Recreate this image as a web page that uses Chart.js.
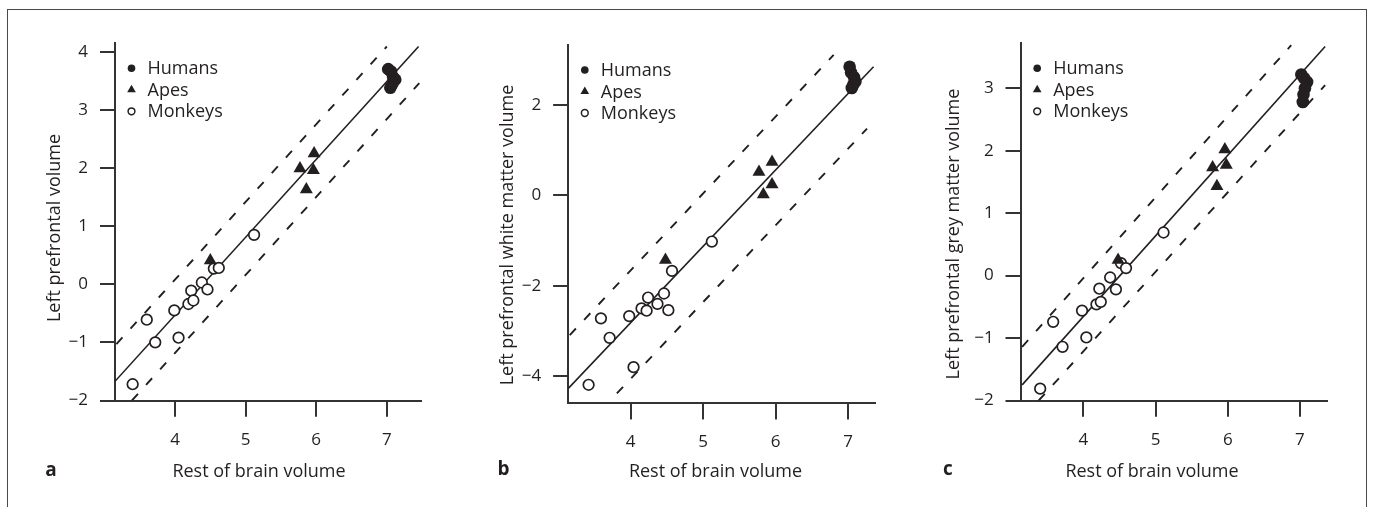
<!DOCTYPE html>
<html>
<head>
<meta charset="utf-8">
<script src="https://cdn.jsdelivr.net/npm/chart.js@4/dist/chart.umd.min.js"></script>
<style>
html,body{margin:0;padding:0;background:#fff;width:1373px;height:507px;overflow:hidden;}
canvas{position:absolute;left:0;top:0;}
#frame{position:absolute;left:7px;top:9px;width:1360px;height:530px;border:1px solid #4a4a4a;box-sizing:border-box;}
</style>
</head>
<body>
<div id="frame"></div>
<canvas id="ca" width="1373" height="507"></canvas>
<canvas id="cb" width="1373" height="507"></canvas>
<canvas id="cc" width="1373" height="507"></canvas>
<script>
// ---------- tick labels ----------
const xTicks = [4, 5, 6, 7];
const yTicksA = [-2, -1, 0, 1, 2, 3, 4];
const yTicksB = [-4, -2, 0, 2];
const yTicksC = [-2, -1, 0, 1, 2, 3];

// ---------- texts ----------
const xTitle = 'Rest of brain volume';
const yTitleA = 'Left prefrontal volume';
const yTitleB = 'Left prefrontal white matter volume';
const yTitleC = 'Left prefrontal grey matter volume';
const seriesNames = ['Humans', 'Apes', 'Monkeys'];

// ---------- panel a : data ----------
const humansAx = [7.02, 7.06, 7.09, 7.12, 7.08, 7.05];
const humansAy = [3.70, 3.66, 3.56, 3.52, 3.45, 3.38];
const apesAx = [5.97, 5.77, 5.96, 5.86, 4.50];
const apesAy = [2.25, 1.99, 1.96, 1.63, 0.41];
const monkeysAx = [5.12, 4.55, 4.62, 4.38, 4.46, 4.23, 4.19, 4.26, 3.99, 3.60, 4.05, 3.72, 3.40];
const monkeysAy = [0.85, 0.27, 0.28, 0.03, -0.09, -0.11, -0.34, -0.28, -0.45, -0.61, -0.92, -1.00, -1.72];
const fitAx = [3.15, 7.45];   const fitAy = [-1.67, 4.09];
const upAx = [3.17, 7.00];    const upAy = [-1.03, 4.09];
const loAx = [3.39, 7.46];    const loAy = [-2.00, 3.46];

// ---------- panel b : data ----------
const humansBx = [7.02, 7.04, 7.08, 7.10, 7.07, 7.05];
const humansBy = [2.85, 2.72, 2.62, 2.52, 2.45, 2.38];
const apesBx = [5.95, 5.77, 5.95, 5.83, 4.48];
const apesBy = [0.74, 0.52, 0.24, 0.02, -1.43];
const monkeysBx = [5.12, 4.57, 4.46, 4.24, 4.37, 4.15, 4.22, 4.52, 3.98, 3.59, 3.71, 4.04, 3.42];
const monkeysBy = [-1.02, -1.67, -2.17, -2.26, -2.40, -2.50, -2.55, -2.54, -2.67, -2.72, -3.15, -3.80, -4.19];
const fitBx = [3.14, 7.35];   const fitBy = [-4.27, 2.85];
const upBx = [3.16, 6.80];    const upBy = [-3.09, 3.11];
const loBx = [3.81, 7.26];    const loBy = [-4.38, 1.48];

// ---------- panel c : data ----------
const humansCx = [7.02, 7.06, 7.10, 7.07, 7.05, 7.04];
const humansCy = [3.22, 3.16, 3.10, 3.00, 2.90, 2.78];
const apesCx = [5.96, 5.79, 5.98, 5.85, 4.48];
const apesCy = [2.02, 1.73, 1.77, 1.43, 0.25];
const monkeysCx = [5.11, 4.52, 4.59, 4.37, 4.45, 4.22, 4.18, 4.24, 3.98, 3.58, 3.71, 4.04, 3.40];
const monkeysCy = [0.69, 0.20, 0.12, -0.03, -0.22, -0.21, -0.46, -0.42, -0.56, -0.74, -1.14, -0.99, -1.81];
const fitCx = [3.15, 7.35];   const fitCy = [-1.75, 3.67];
const upCx = [3.15, 6.88];    const upCy = [-1.14, 3.69];
const loCx = [3.38, 7.35];    const loCy = [-2.00, 3.05];

// ---------- styling ----------
const INK = '#231f20';
const AXIS = '#333333';
const FONT = '"Open Sans", "Noto Sans", sans-serif';

function pts(xs, ys) { return xs.map((x, i) => ({x: x, y: ys[i]})); }
function fmt(v) { return v < 0 ? '\u2212' + Math.abs(v) : String(v); }

const decor = {
  id: 'decor',
  afterDraw(chart, args, o) {
    const ctx = chart.ctx, ca = chart.chartArea;
    ctx.save();
    // outward tick marks, placed through the chart's own scales
    ctx.strokeStyle = AXIS;
    ctx.lineWidth = 2;
    ctx.beginPath();
    chart.scales.x.ticks.forEach(t => {
      const px = Math.round(chart.scales.x.getPixelForValue(t.value));
      ctx.moveTo(px, ca.bottom); ctx.lineTo(px, ca.bottom + 16);
    });
    chart.scales.y.ticks.forEach(t => {
      const py = Math.round(chart.scales.y.getPixelForValue(t.value));
      ctx.moveTo(ca.left, py); ctx.lineTo(ca.left - 15, py);
    });
    ctx.stroke();

    ctx.fillStyle = INK;
    ctx.textBaseline = 'middle';
    // legend
    ctx.font = '18px ' + FONT;
    ctx.textAlign = 'left';
    const legendDs = chart.data.datasets.filter(d => d.inLegend);
    legendDs.forEach((d, i) => {
      const y = ca.top + 25 + i * 21.5;
      const mx = ca.left + 16.5;
      ctx.fillStyle = d.pointBackgroundColor;
      ctx.strokeStyle = d.pointBorderColor;
      ctx.lineWidth = d.legendBorder;
      Chart.helpers.drawPoint(ctx, {pointStyle: d.pointStyle, radius: d.legendRadius, rotation: 0, borderWidth: d.legendBorder}, mx, y);
      ctx.fillStyle = INK;
      ctx.fillText(d.label, ca.left + 32.5, y + 1);
    });
    // axis titles
    ctx.textAlign = 'center';
    ctx.font = '18px ' + FONT;
    ctx.fillText(o.xTitle, o.xTitlePos[0], o.xTitlePos[1]);
    ctx.save();
    ctx.translate(o.yTitlePos[0], o.yTitlePos[1]);
    ctx.rotate(-Math.PI / 2);
    ctx.fillText(o.yTitle, 0, 0);
    ctx.restore();
    // panel letter
    ctx.font = 'bold 19px ' + FONT;
    ctx.fillText(o.letter, o.letterPos[0], o.letterPos[1]);
    ctx.restore();
  }
};

function makeChart(id, area, xr, yr, yTicks, sets, deco) {
  const [L, T, R, B] = area;
  const Wy = 60, Hx = 60;
  const datasets = [
    {label: seriesNames[0], inLegend: true, data: pts(sets.hx, sets.hy), pointStyle: 'circle', pointRadius: 6.3,
     pointBackgroundColor: INK, pointBorderColor: INK, pointBorderWidth: 0, legendRadius: 3.8, legendBorder: 0},
    {label: seriesNames[1], inLegend: true, data: pts(sets.ax, sets.ay), pointStyle: 'triangle', pointRadius: 7.5,
     pointBackgroundColor: INK, pointBorderColor: INK, pointBorderWidth: 0, legendRadius: 5, legendBorder: 0},
    {label: seriesNames[2], inLegend: true, data: pts(sets.mx, sets.my), pointStyle: 'circle', pointRadius: 5.3,
     pointBackgroundColor: '#ffffff', pointBorderColor: INK, pointBorderWidth: 1.7, legendRadius: 3.4, legendBorder: 1.5},
    {label: 'fit', data: pts(sets.fx, sets.fy), showLine: true, pointRadius: 0, borderColor: INK, borderWidth: 1.6},
    {label: 'upper', data: pts(sets.ux, sets.uy), showLine: true, pointRadius: 0, borderColor: INK, borderWidth: 1.9, borderDash: [9, 12]},
    {label: 'lower', data: pts(sets.lx, sets.ly), showLine: true, pointRadius: 0, borderColor: INK, borderWidth: 1.9, borderDash: [9, 12]}
  ];
  const tickFont = {family: FONT, size: 17};
  return new Chart(document.getElementById(id), {
    type: 'scatter',
    data: {datasets: datasets},
    options: {
      responsive: false,
      animation: false,
      events: [],
      layout: {padding: {left: L - Wy, top: T, right: 1373 - R, bottom: 507 - B - Hx}},
      plugins: {legend: {display: false}, tooltip: {enabled: false}, decor: deco},
      scales: {
        x: {
          type: 'linear', min: xr[0], max: xr[1],
          afterBuildTicks: s => { s.ticks = xTicks.map(v => ({value: v})); },
          afterFit: s => { s.height = Hx; },
          grid: {drawOnChartArea: false, drawTicks: true, tickLength: 16, color: AXIS, lineWidth: 2},
          border: {display: true, color: AXIS, width: 2},
          ticks: {color: INK, font: tickFont, padding: 13, maxRotation: 0, callback: v => fmt(v)}
        },
        y: {
          type: 'linear', min: yr[0], max: yr[1],
          afterBuildTicks: s => { s.ticks = yTicks.map(v => ({value: v})); },
          afterFit: s => { s.width = Wy; },
          grid: {drawOnChartArea: false, drawTicks: true, tickLength: 15, color: AXIS, lineWidth: 2},
          border: {display: true, color: AXIS, width: 2},
          ticks: {color: INK, font: tickFont, padding: 12, callback: v => fmt(v)}
        }
      }
    },
    plugins: [decor]
  });
}

makeChart('ca', [115, 43.3, 420.7, 400.5], [3.15, 7.48], [-2, 4.145], yTicksA,
  {hx: humansAx, hy: humansAy, ax: apesAx, ay: apesAy, mx: monkeysAx, my: monkeysAy,
   fx: fitAx, fy: fitAy, ux: upAx, uy: upAy, lx: loAx, ly: loAy},
  {xTitle: xTitle, xTitlePos: [259, 471.5], yTitle: yTitleA, yTitlePos: [55, 228], letter: 'a', letterPos: [51, 471]});

makeChart('cb', [568.3, 45, 875, 403.3], [3.14, 7.37], [-4.6, 3.33], yTicksB,
  {hx: humansBx, hy: humansBy, ax: apesBx, ay: apesBy, mx: monkeysBx, my: monkeysBy,
   fx: fitBx, fy: fitBy, ux: upBx, uy: upBy, lx: loBx, ly: loBy},
  {xTitle: xTitle, xTitlePos: [715.5, 471.5], yTitle: yTitleB, yTitlePos: [507.5, 235], letter: 'b', letterPos: [503.5, 470]});

makeChart('cc', [1020.7, 43.3, 1327.3, 400.5], [3.13, 7.38], [-2, 3.72], yTicksC,
  {hx: humansCx, hy: humansCy, ax: apesCx, ay: apesCy, mx: monkeysCx, my: monkeysCy,
   fx: fitCx, fy: fitCy, ux: upCx, uy: upCy, lx: loCx, ly: loCy},
  {xTitle: xTitle, xTitlePos: [1152, 471.5], yTitle: yTitleC, yTitlePos: [954, 234], letter: 'c', letterPos: [948, 470]});
</script>
</body>
</html>
